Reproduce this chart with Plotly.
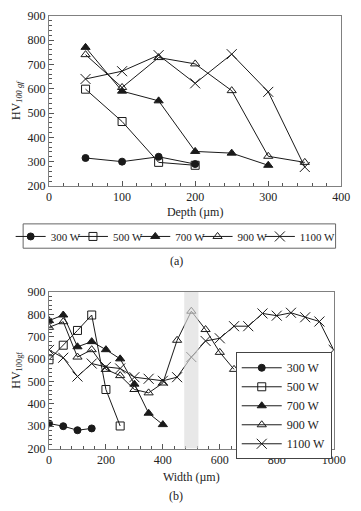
import plotly.graph_objects as go

# ---- Data: (a) hardness vs depth ----
depth_300 = [50, 100, 150, 200]
hv_a_300 = [315, 300, 320, 290]
depth_500 = [50, 100, 150, 200]
hv_a_500 = [598, 465, 297, 285]
depth_700 = [50, 100, 150, 200, 250, 300]
hv_a_700 = [770, 590, 550, 342, 335, 285]
depth_900 = [50, 100, 150, 200, 250, 300, 350]
hv_a_900 = [740, 605, 728, 702, 592, 322, 297]
depth_1100 = [50, 100, 150, 200, 250, 300, 350]
hv_a_1100 = [640, 672, 738, 622, 742, 587, 278]

# ---- Data: (b) hardness vs width ----
width_300 = [0, 50, 100, 150]
hv_b_300 = [312, 300, 282, 290]
width_500 = [0, 50, 100, 150, 200, 250]
hv_b_500 = [597, 662, 728, 797, 464, 301]
width_700 = [0, 50, 100, 150, 200, 250, 300, 350, 400]
hv_b_700 = [772, 797, 655, 678, 642, 601, 488, 358, 307]
width_900 = [0, 50, 100, 150, 200, 250, 300, 350, 400, 450, 500, 550, 600, 650]
hv_b_900 = [742, 767, 609, 642, 554, 526, 464, 449, 493, 684, 814, 732, 630, 554]
width_1100 = [0, 50, 100, 150, 200, 250, 300, 350, 400, 450, 500, 550, 600,
              650, 700, 750, 800, 850, 900, 950, 1000]
hv_b_1100 = [641, 606, 522, 580, 565, 558, 519, 512, 503, 519, 609, 681, 693,
             747, 747, 804, 794, 807, 787, 768, 641]

labels = ["300 W", "500 W", "700 W", "900 W", "1100 W"]
band = [475, 525]

symbols = ["circle", "square-open", "triangle-up", "triangle-up-open", "x-thin-open"]
sizes = [7, 8, 8, 8, 10]

FONT = "Liberation Serif"
INK = "#1a1a1a"

fig = go.Figure()

series_a = [(depth_300, hv_a_300), (depth_500, hv_a_500), (depth_700, hv_a_700),
            (depth_900, hv_a_900), (depth_1100, hv_a_1100)]
series_b = [(width_300, hv_b_300), (width_500, hv_b_500), (width_700, hv_b_700),
            (width_900, hv_b_900), (width_1100, hv_b_1100)]

# one small legend per entry of the top (horizontal) key
top_legends = ["legend", "legend3", "legend4", "legend5", "legend6"]
top_leg_x = [8, 73, 138, 203, 268]  # px of each key entry

for (xs, ys), lab, sym, sz, lg in zip(series_a, labels, symbols, sizes, top_legends):
    fig.add_trace(go.Scatter(
        x=xs, y=ys, name=lab, mode="lines+markers", xaxis="x", yaxis="y",
        line=dict(color=INK, width=1),
        marker=dict(symbol=sym, size=sz, color=INK,
                    line=dict(color=INK, width=1)),
        legend=lg))

for (xs, ys), lab, sym, sz in zip(series_b, labels, symbols, sizes):
    fig.add_trace(go.Scatter(
        x=xs, y=ys, name=lab, mode="lines+markers", xaxis="x2", yaxis="y2",
        line=dict(color=INK, width=1),
        marker=dict(symbol=sym, size=sz, color=INK,
                    line=dict(color=INK, width=1)),
        legend="legend2"))

fig.add_shape(type="rect", xref="x2", yref="y2", x0=band[0], x1=band[1],
              y0=200, y1=900, fillcolor="#dcdcdc", opacity=0.65,
              line=dict(width=0), layer="above")

# frame of the top legend
fig.add_shape(type="rect", xref="paper", yref="paper",
              x0=21/361, x1=347/361, y0=1-248/511, y1=1-223/511,
              line=dict(color="#666", width=1), fillcolor="rgba(0,0,0,0)")

axis_common = dict(
    showgrid=False, zeroline=False, showline=True, linecolor="#808080",
    linewidth=1, mirror=True, ticks="inside", ticklen=5, tickcolor="#555",
    tickfont=dict(family=FONT, size=12, color="#222"),
)

leg_top_common = dict(orientation="h", yanchor="top", xanchor="left",
                      y=1-221/511, borderwidth=0, bgcolor="rgba(0,0,0,0)",
                      font=dict(family=FONT, size=11, color="#222"),
                      itemwidth=30, tracegroupgap=0)

layout_legends = {name: dict(x=px/361, **leg_top_common)
                  for name, px in zip(top_legends, top_leg_x)}

fig.update_layout(
    width=361, height=511,
    margin=dict(l=0, r=0, t=0, b=0),
    paper_bgcolor="white", plot_bgcolor="white",
    font=dict(family=FONT, color="#222", size=12),
    xaxis=dict(domain=[48/361, 353/361], anchor="y", range=[0, 400], dtick=100,
               minor=dict(dtick=20, ticks="inside", ticklen=3, tickcolor="#555"),
               title=dict(text="Depth (µm)", font=dict(family=FONT, size=12), standoff=4),
               **axis_common),
    yaxis=dict(domain=[1-184/511, 1-9/511], anchor="x", range=[200, 900], dtick=100,
               minor=dict(dtick=20, ticks="inside", ticklen=3, tickcolor="#555"),
               title=dict(text="HV<sub><i>100 gf</i></sub>", font=dict(family=FONT, size=12), standoff=4),
               **axis_common),
    xaxis2=dict(domain=[48/361, 345/361], anchor="y2", range=[0, 1000], dtick=200,
                minor=dict(dtick=40, ticks="inside", ticklen=3, tickcolor="#555"),
                title=dict(text="Width (µm)", font=dict(family=FONT, size=12), standoff=6),
                **axis_common),
    yaxis2=dict(domain=[1-454/511, 1-293/511], anchor="x2", range=[200, 900], dtick=100,
                minor=dict(dtick=20, ticks="inside", ticklen=3, tickcolor="#555"),
                title=dict(text="HV<sub>100gf</sub>", font=dict(family=FONT, size=12), standoff=4),
                **axis_common),
    legend2=dict(orientation="v", x=343/361, y=1-355/511, xanchor="right", yanchor="top",
                 bordercolor="#444", borderwidth=1, bgcolor="white",
                 font=dict(family=FONT, size=12, color="#222"),
                 itemwidth=40, tracegroupgap=0),
    showlegend=True,
    annotations=[
        dict(text="(a)", x=0.5, y=1-261/511, xref="paper", yref="paper",
             xanchor="center", yanchor="middle",
             showarrow=False, font=dict(family=FONT, size=12, color="#222")),
        dict(text="(b)", x=0.5, y=1-503/511, xref="paper", yref="paper",
             xanchor="center", yanchor="middle",
             showarrow=False, font=dict(family=FONT, size=12, color="#222")),
    ],
    **layout_legends,
)

fig.write_html("out.html")
